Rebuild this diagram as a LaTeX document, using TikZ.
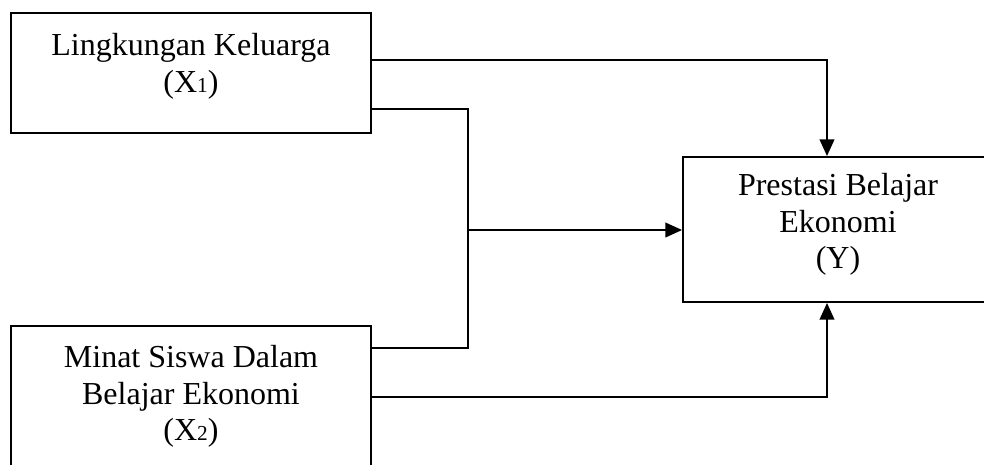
\documentclass[tikz,border=0pt]{standalone}
\usepackage{fontspec}
\setmainfont{Liberation Serif}
\usetikzlibrary{arrows.meta,calc}
\newcommand{\sbs}[1]{{\fontsize{16}{16}\selectfont #1}}
\begin{document}
\begin{tikzpicture}[x=0.75pt,y=-0.75pt,
  box/.style={draw,line width=1.4pt,minimum width=#1,inner sep=0pt},
  lbl/.style={anchor=north,align=center,inner sep=0pt,font=\fontsize{24}{27.5}\selectfont},
  wire/.style={line width=1.3pt},
  arr/.style={wire,-{Triangle[length=12.5pt,width=11pt]}}]
\useasboundingbox (0,0) rectangle (984,464);
\clip (0,0) rectangle (984,464);
\node[box=270pt,minimum height=90pt] (b1) at (191,73) {};
\node[box=270pt,minimum height=112.5pt] (b2) at (191,401) {};
\node[box=232.5pt,minimum height=108.75pt] (y) at (838,229.5) {};
\node[lbl] (t1) at (191,33) {Lingkungan Keluarga\\(X\sbs{1})};
\node[lbl] (t2) at (191,345) {Minat Siswa Dalam\\Belajar Ekonomi\\(X\sbs{2})};
\node[lbl] (ty) at (838,173) {Prestasi Belajar\\Ekonomi\\(Y)};
\coordinate (j) at (468,230);
\draw[arr] ($(b1.north east)+(0,48)$) -| ($(y.north)+(-11,0)$);
\draw[wire] ($(b1.north east)+(0,97)$) -| (j) |- ($(b2.north east)+(0,23)$);
\draw[arr] (j) -- (j -| y.west);
\draw[arr] ($(b2.north east)+(0,72)$) -| ($(y.south)+(-11,0)$);
\end{tikzpicture}
\end{document}
